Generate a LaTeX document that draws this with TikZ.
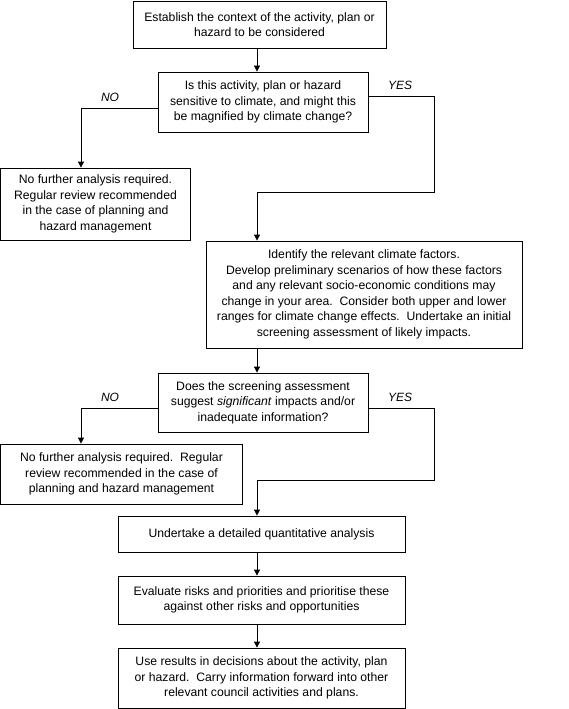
\documentclass[tikz,border=0pt]{standalone}
\usepackage{fontspec}
\setmainfont{Liberation Sans}
\usetikzlibrary{arrows.meta}
\begin{document}
\begin{tikzpicture}[x=1pt,y=-1pt,
  box/.style={draw,line width=0.8pt,align=center,inner sep=0pt,font=\fontsize{12.2}{15.5}\selectfont},
  arr/.style={line width=0.8pt,-{Triangle[length=6pt,width=6pt]}},
  lbl/.style={font=\fontsize{12}{14}\selectfont\itshape}]
\useasboundingbox (0,0) rectangle (569,709);
\node[box,minimum width=253pt,minimum height=47pt] (b1) at (259.5,24.5) {Establish the context of the activity, plan or\\hazard to be considered};
\node[box,minimum width=210pt,minimum height=60pt] (b2) at (263,102) {Is this activity, plan or hazard\\sensitive to climate, and might this\\be magnified by climate change?};
\node[box,minimum width=190pt,minimum height=72pt] (b3) at (95.5,204) {No further analysis required.\\Regular review recommended\\in the case of planning and\\hazard management};
\node[box,minimum width=316pt,minimum height=107pt] (b4) at (364,294.5) {Identify the relevant climate factors.\\Develop preliminary scenarios of how these factors\\and any relevant socio-economic conditions may\\change in your area.\ \ Consider both upper and lower\\ranges for climate change effects.\ \ Undertake an initial\\screening assessment of likely impacts.};
\node[box,minimum width=210pt,minimum height=59pt] (b5) at (263,402.5) {Does the screening assessment\\suggest \textit{significant} impacts and/or\\inadequate information?};
\node[box,minimum width=242pt,minimum height=60pt] (b6) at (121.5,474) {No further analysis required.\ \ Regular\\review recommended in the case of\\planning and hazard management};
\node[box,minimum width=287pt,minimum height=36pt] (b7) at (261.5,534) {Undertake a detailed quantitative analysis};
\node[box,minimum width=287pt,minimum height=48pt] (b8) at (261.5,600) {Evaluate risks and priorities and prioritise these\\against other risks and opportunities};
\node[box,minimum width=287pt,minimum height=60pt] (b9) at (261.5,678) {Use results in decisions about the activity, plan\\or hazard.\ \ Carry information forward into other\\relevant council activities and plans.};
\coordinate (sp) at (257,0);
\coordinate (n1) at (81,108);
\coordinate (y1) at (434,96);
\coordinate (y1b) at (434,192);
\coordinate (n2) at (81,408);
\coordinate (y2) at (434,408);
\coordinate (y2b) at (434,480);
\draw[arr] (b1.south -| sp) -- (b2.north -| sp);
\draw[arr] (b2.west |- n1) -- (n1) -- (b3.north -| n1);
\draw[arr] (b2.east |- y1) -- (y1) -- (y1b) -- (y1b -| sp) -- (b4.north -| sp);
\draw[arr] (b4.south -| sp) -- (b5.north -| sp);
\draw[arr] (b5.west |- n2) -- (n2) -- (b6.north -| n2);
\draw[arr] (b5.east |- y2) -- (y2) -- (y2b) -- (y2b -| sp) -- (b7.north -| sp);
\draw[arr] (b7.south -| sp) -- (b8.north -| sp);
\draw[arr] (b8.south -| sp) -- (b9.north -| sp);
\node[lbl] (no1) at (110,97) {NO};
\node[lbl] (yes1) at (400,85) {YES};
\node[lbl] (no2) at (110,397) {NO};
\node[lbl] (yes2) at (400,397) {YES};
\end{tikzpicture}
\end{document}
